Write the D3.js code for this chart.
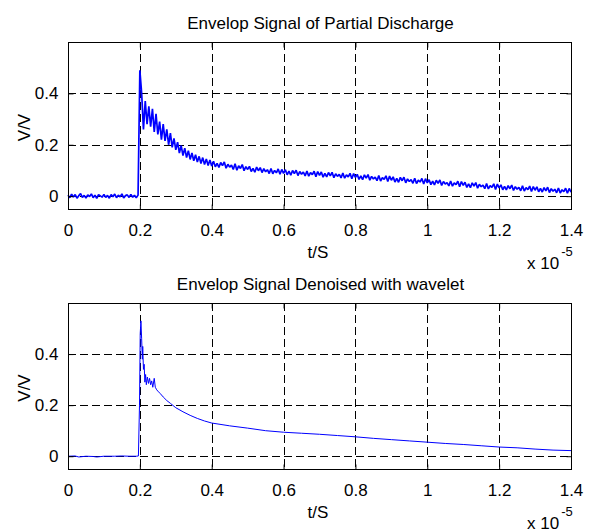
<!DOCTYPE html>
<html>
<head>
<meta charset="utf-8">
<script src="https://cdn.jsdelivr.net/npm/d3@7"></script>
<style>
  body { margin: 0; background: #fff; }
  text { font-family: "Liberation Sans", Arial, sans-serif; fill: #000; }
</style>
</head>
<body>
<script>
// time axis is in units of 1e-5 s
const xTicks = [0, 0.2, 0.4, 0.6, 0.8, 1, 1.2, 1.4];
const yTicks = [0, 0.2, 0.4];
const titles = ["Envelop Signal of Partial Discharge", "Envelop Signal Denoised with wavelet"];

const sampleStep = 0.005;
const rawSignal = [
  0.004,-0.006,0.008,-0.003,0.006,-0.008,0.002,0.01,-0.005,0.003,
  -0.007,0.005,-0.002,0.009,-0.006,0.004,-0.009,0.006,0.001,-0.004,
  0.007,-0.005,0.003,-0.008,0.006,-0.002,0.008,-0.006,0.004,-0.003,
  0.009,-0.007,0.002,0.005,-0.005,0.007,-0.004,0.003,-0.006,0.004,
  0.49,
  0.40,0.26,0.37,0.28,0.35,0.27,0.34,0.25,0.32,0.24,
  0.29,0.22,0.28,0.215,0.26,0.2,0.245,0.19,0.225,0.18,
  0.21,0.168,0.197,0.158,0.187,0.15,0.177,0.143,0.168,0.138,
  0.161,0.133,0.155,0.127,0.15,0.123,0.145,0.119,0.141,0.117,
  0.136,0.114,0.128,0.112,0.131,0.119,0.133,0.109,0.124,0.113,
  0.121,0.104,0.126,0.101,0.118,0.108,0.123,0.099,0.115,0.104,
  0.116,0.096,0.108,0.093,0.113,0.099,0.111,0.092,0.107,0.095,
  0.103,0.088,0.108,0.087,0.1,0.091,0.106,0.085,0.104,0.089,
  0.103,0.083,0.097,0.082,0.1,0.088,0.101,0.08,0.096,0.085,
  0.094,0.079,0.098,0.078,0.092,0.084,0.097,0.076,0.096,0.081,
  0.094,0.074,0.089,0.075,0.092,0.079,0.093,0.072,0.087,0.077,
  0.085,0.071,0.09,0.07,0.083,0.075,0.089,0.068,0.088,0.073,
  0.085,0.065,0.079,0.064,0.083,0.07,0.084,0.062,0.077,0.067,
  0.074,0.06,0.08,0.059,0.072,0.065,0.079,0.057,0.078,0.062,
  0.075,0.055,0.069,0.054,0.073,0.06,0.074,0.052,0.067,0.057,
  0.064,0.05,0.07,0.049,0.062,0.055,0.069,0.047,0.068,0.052,
  0.064,0.045,0.058,0.044,0.062,0.05,0.063,0.042,0.057,0.047,
  0.053,0.04,0.059,0.039,0.052,0.045,0.058,0.037,0.057,0.042,
  0.054,0.034,0.048,0.033,0.052,0.039,0.053,0.031,0.046,0.037,
  0.043,0.029,0.049,0.028,0.041,0.034,0.048,0.026,0.047,0.032,
  0.044,0.025,0.038,0.024,0.041,0.029,0.043,0.022,0.037,0.027,
  0.034,0.021,0.04,0.02,0.033,0.025,0.039,0.018,0.037,0.023,
  0.036,0.017,0.03,0.016,0.033,0.021,0.035,0.014,0.029,0.019,
  0.027,0.013,0.032,0.012,0.025,0.018,0.031,0.011,0.03,0.016
];

// denoised envelope
const denoisedT = [0, 0.02, 0.03, 0.05, 0.07, 0.08, 0.1, 0.13, 0.15, 0.17, 0.19, 0.196,
  0.199, 0.201, 0.203, 0.205, 0.207, 0.208, 0.21, 0.212, 0.214, 0.216, 0.218, 0.221,
  0.224, 0.227, 0.23, 0.233, 0.236, 0.24, 0.243, 0.247, 0.25, 0.257, 0.265, 0.275, 0.285,
  0.3, 0.32, 0.34, 0.36, 0.38, 0.4, 0.45, 0.5, 0.55, 0.6, 0.65, 0.7, 0.75, 0.8, 0.85,
  0.9, 0.95, 1.0, 1.05, 1.1, 1.15, 1.2, 1.25, 1.3, 1.35, 1.4];
const denoisedV = [0, 0.001, -0.003, 0, -0.001, -0.003, 0, 0, 0.001, 0, 0, 0.001,
  0.2, 0.48, 0.53, 0.46, 0.38, 0.43, 0.34, 0.36, 0.29, 0.32, 0.28, 0.31,
  0.285, 0.305, 0.28, 0.295, 0.27, 0.305, 0.27, 0.26, 0.255, 0.245, 0.232, 0.218, 0.207,
  0.19, 0.174, 0.16, 0.148, 0.138, 0.13, 0.119, 0.11, 0.1, 0.094, 0.09, 0.086, 0.081, 0.076, 0.07,
  0.065, 0.06, 0.055, 0.05, 0.046, 0.041, 0.036, 0.033, 0.028, 0.024, 0.022];

const rawPts = rawSignal.map((v, i) => [i * sampleStep, v]);
const denPts = denoisedT.map((t, i) => [t, denoisedV[i]]);

const W = 591, H = 532;
const svg = d3.select("body").append("svg")
  .attr("width", W).attr("height", H);

const panels = [
  { top: 42, bottom: 209, pts: rawPts, title: titles[0], titleY: 29, lw: 1.7 },
  { top: 303, bottom: 469, pts: denPts, title: titles[1], titleY: 290, lw: 1 }
];
const left = 68, right = 571;

const x = d3.scaleLinear().domain([0, 1.4]).range([left, right]);

panels.forEach(p => {
  const y = d3.scaleLinear().domain([-0.05, 0.6]).range([p.bottom, p.top]);
  const g = svg.append("g");

  // dashed grid
  g.append("g").selectAll("line").data(xTicks.slice(1, -1)).join("line")
    .attr("x1", d => Math.round(x(d)) + 0.5).attr("x2", d => Math.round(x(d)) + 0.5)
    .attr("y1", p.top).attr("y2", p.bottom)
    .attr("stroke", "#000").attr("stroke-dasharray", "8,4");
  g.append("g").selectAll("line").data(yTicks).join("line")
    .attr("y1", d => Math.round(y(d)) + 0.5).attr("y2", d => Math.round(y(d)) + 0.5)
    .attr("x1", left).attr("x2", right)
    .attr("stroke", "#000").attr("stroke-dasharray", "8,4");

  // signal
  g.append("path").datum(p.pts)
    .attr("fill", "none").attr("stroke", "#0000ff").attr("stroke-width", p.lw)
    .attr("stroke-linejoin", "bevel")
    .attr("d", d3.line().x(d => x(d[0])).y(d => y(d[1])));

  // box + inward ticks
  g.append("rect")
    .attr("x", left + 0.5).attr("y", p.top + 0.5)
    .attr("width", right - left).attr("height", p.bottom - p.top)
    .attr("fill", "none").attr("stroke", "#000");

  const xb = g.append("g").attr("transform", `translate(0,${p.bottom + 0.5})`)
    .call(d3.axisBottom(x).tickValues(xTicks).tickSize(-5).tickPadding(14)
      .tickFormat(d => String(d)));
  const xt = g.append("g").attr("transform", `translate(0,${p.top + 0.5})`)
    .call(d3.axisTop(x).tickValues(xTicks).tickSize(-5).tickFormat(""));
  const yl = g.append("g").attr("transform", `translate(${left + 0.5},0)`)
    .call(d3.axisLeft(y).tickValues(yTicks).tickSize(-5).tickPadding(10)
      .tickFormat(d => String(d)));
  const yr = g.append("g").attr("transform", `translate(${right + 0.5},0)`)
    .call(d3.axisRight(y).tickValues(yTicks).tickSize(-5).tickFormat(""));

  [xb, xt, yl, yr].forEach(a => {
    a.select(".domain").remove();
    a.selectAll("text").attr("font-size", 17).attr("font-family", "Liberation Sans, Arial, sans-serif").attr("fill", "#000");
  });

  // title
  g.append("text").attr("x", (left + right) / 2 + 1).attr("y", p.titleY)
    .attr("text-anchor", "middle").attr("font-size", 17).text(p.title);

  // axis labels
  g.append("text").attr("x", 318).attr("y", p.bottom + 49)
    .attr("text-anchor", "middle").attr("font-size", 17).text("t/S");
  g.append("text")
    .attr("transform", `translate(30,${(p.top + p.bottom) / 2 + 2}) rotate(-90)`)
    .attr("text-anchor", "middle").attr("font-size", 17).text("V/V");

  const ex = g.append("text").attr("x", 527).attr("y", p.bottom + 60).attr("font-size", 17);
  ex.append("tspan").text("x 10");
  ex.append("tspan").attr("dx", 2).attr("dy", -13).attr("font-size", 13).text("-5");
});
</script>
</body>
</html>
